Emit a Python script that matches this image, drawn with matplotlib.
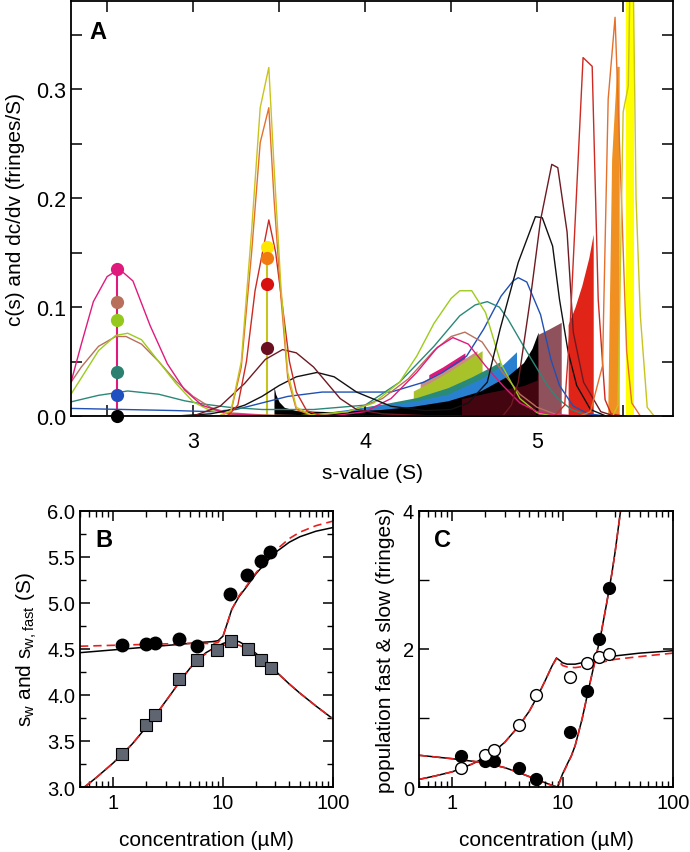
import matplotlib
matplotlib.use('Agg')
import matplotlib.pyplot as plt
from matplotlib.ticker import MultipleLocator, LogLocator, NullFormatter, FixedLocator

plt.rcParams['font.family'] = ['Liberation Sans', 'DejaVu Sans']
plt.rcParams['mathtext.default'] = 'regular'

# ---------------- panel A data: c(s) curves (s-value, fringes/S) ----------------
s_magenta = [2.29, 2.35, 2.42, 2.50, 2.57, 2.65, 2.75, 2.85, 2.95, 3.05, 3.2, 3.5, 3.8, 4.0, 4.15, 4.3, 4.42, 4.51, 4.6, 4.7, 4.8, 4.9, 5.0, 5.1, 5.3]
c_magenta = [0.031, 0.066, 0.105, 0.128, 0.135, 0.124, 0.083, 0.048, 0.024, 0.010, 0.002, 0, 0, 0.004, 0.016, 0.040, 0.063, 0.072, 0.066, 0.046, 0.028, 0.012, 0.004, 0.001, 0]

s_brown = [2.29, 2.35, 2.45, 2.55, 2.61, 2.70, 2.80, 2.90, 3.0, 3.1, 3.2, 3.4, 3.7, 3.9, 4.1, 4.25, 4.4, 4.5, 4.58, 4.68, 4.8, 4.9, 5.0, 5.1, 5.2]
c_brown = [0.031, 0.045, 0.064, 0.073, 0.073, 0.066, 0.050, 0.032, 0.018, 0.008, 0.003, 0.001, 0, 0.004, 0.016, 0.034, 0.060, 0.073, 0.077, 0.068, 0.040, 0.020, 0.008, 0.002, 0]

s_green = [2.29, 2.35, 2.45, 2.55, 2.62, 2.70, 2.80, 2.90, 3.0, 3.1, 3.25, 3.6, 3.9, 4.05, 4.2, 4.3, 4.4, 4.5, 4.55, 4.62, 4.7, 4.79, 4.9, 5.0, 5.1]
c_green = [0.020, 0.035, 0.060, 0.074, 0.076, 0.070, 0.050, 0.030, 0.013, 0.005, 0.001, 0, 0.004, 0.012, 0.031, 0.055, 0.085, 0.108, 0.115, 0.115, 0.095, 0.048, 0.016, 0.003, 0]

s_teal = [2.29, 2.45, 2.62, 2.8, 2.95, 3.06, 3.21, 3.4, 3.7, 4.0, 4.2, 4.4, 4.55, 4.64, 4.71, 4.78, 4.83, 4.94, 5.06, 5.12, 5.2, 5.3]
c_teal = [0.013, 0.019, 0.023, 0.020, 0.014, 0.011, 0.008, 0.006, 0.006, 0.010, 0.031, 0.064, 0.092, 0.102, 0.105, 0.100, 0.089, 0.059, 0.028, 0.016, 0.006, 0]

s_blue = [2.29, 2.6, 2.9, 3.1, 3.25, 3.4, 3.55, 3.75, 4.15, 4.34, 4.45, 4.59, 4.69, 4.79, 4.86, 4.89, 4.94, 5.02, 5.08, 5.13, 5.21, 5.3, 5.4]
c_blue = [0.007, 0.006, 0.005, 0.004, 0.006, 0.012, 0.018, 0.022, 0.022, 0.031, 0.040, 0.055, 0.080, 0.110, 0.124, 0.127, 0.123, 0.093, 0.052, 0.028, 0.009, 0.002, 0]

s_black = [2.29, 2.9, 3.1, 3.2, 3.3, 3.4, 3.5, 3.6, 3.72, 3.82, 3.95, 4.15, 4.35, 4.5, 4.6, 4.71, 4.785, 4.89, 4.99, 5.03, 5.09, 5.13, 5.18, 5.23, 5.31, 5.4]
c_black = [0, 0, 0.002, 0.005, 0.010, 0.018, 0.028, 0.036, 0.040, 0.036, 0.022, 0.009, 0.005, 0.006, 0.012, 0.031, 0.080, 0.141, 0.183, 0.182, 0.156, 0.107, 0.059, 0.028, 0.006, 0]

s_maroon = [2.29, 3.0, 3.157, 3.3, 3.42, 3.52, 3.6, 3.7, 3.855, 3.95, 4.1, 4.4, 4.8, 4.85, 4.89, 4.96, 5.02, 5.085, 5.12, 5.174, 5.21, 5.27, 5.37, 5.45]
c_maroon = [0, 0, 0.009, 0.030, 0.052, 0.061, 0.058, 0.045, 0.016, 0.006, 0.002, 0, 0, 0.010, 0.031, 0.107, 0.180, 0.231, 0.228, 0.169, 0.077, 0.031, 0.004, 0]

s_red = [2.29, 3.2, 3.26, 3.31, 3.36, 3.44, 3.48, 3.52, 3.56, 3.6, 3.66, 3.75, 5.1, 5.16, 5.19, 5.267, 5.32, 5.355, 5.395, 5.43, 5.5]
c_red = [0, 0, 0.010, 0.050, 0.115, 0.180, 0.150, 0.100, 0.050, 0.022, 0.005, 0, 0, 0.010, 0.077, 0.329, 0.321, 0.107, 0.015, 0.002, 0]

s_orange = [2.29, 3.15, 3.22, 3.28, 3.34, 3.39, 3.44, 3.47, 3.51, 3.55, 3.6, 3.7, 5.25, 5.31, 5.38, 5.413, 5.453, 5.49, 5.52, 5.55, 5.6]
c_orange = [0, 0, 0.004, 0.045, 0.150, 0.251, 0.283, 0.200, 0.110, 0.035, 0.006, 0, 0, 0.004, 0.046, 0.291, 0.366, 0.200, 0.060, 0.012, 0]

s_yellow = [2.29, 3.15, 3.22, 3.28, 3.34, 3.39, 3.44, 3.47, 3.51, 3.55, 3.6, 3.7, 5.44, 5.47, 5.50, 5.53, 5.545, 5.555, 5.575, 5.60, 5.64, 5.68, 5.79]
c_yellow = [0, 0, 0.005, 0.050, 0.170, 0.283, 0.320, 0.230, 0.120, 0.040, 0.008, 0, 0, 0.010, 0.279, 0.303, 0.45, 0.45, 0.200, 0.092, 0.008, 0, 0]

# ---------------- panel A data: dc/dv fills ----------------
fs_magenta = [4.37, 4.45, 4.52, 4.58]
fc_magenta = [0.038, 0.045, 0.052, 0.058]
fs_rosy = [4.32, 4.4, 4.5, 4.58, 4.65]
fc_rosy = [0.031, 0.037, 0.045, 0.053, 0.060]
fs_green = [4.28, 4.38, 4.48, 4.58, 4.68]
fc_green = [0.023, 0.031, 0.040, 0.050, 0.060]
fs_teal = [3.9, 4.1, 4.3, 4.48, 4.62, 4.73, 4.785]
fc_teal = [0.006, 0.011, 0.017, 0.026, 0.036, 0.045, 0.050]
fs_blue = [3.8, 4.09, 4.3, 4.48, 4.67, 4.8, 4.88]
fc_blue = [0.004, 0.010, 0.014, 0.020, 0.034, 0.047, 0.059]
fs_black = [3.47, 3.48, 3.5, 3.53, 3.6, 3.8, 4.09, 4.28, 4.48, 4.67, 4.83, 4.92, 4.97, 5.006]
fc_black = [0.027, 0.020, 0.013, 0.008, 0.005, 0.004, 0.006, 0.009, 0.014, 0.023, 0.037, 0.049, 0.062, 0.077]
fs_maroon = [4.56, 4.73, 4.92, 5.0, 5.006, 5.07, 5.14]
fc_maroon = [0.016, 0.022, 0.028, 0.033, 0.075, 0.080, 0.086]
fs_red = [5.18, 5.22, 5.26, 5.3, 5.326]
fc_red = [0.084, 0.100, 0.120, 0.145, 0.167]
fs_orange = [5.41, 5.433, 5.463, 5.477]
fc_orange = [0.0, 0.236, 0.321, 0.321]
fs_yellow = [5.518, 5.562]
fc_yellow = [0.5, 0.5]

# weight-average slow peak markers
dot_s1 = 2.56
dot_c1 = [0.135, 0.105, 0.088, 0.040, 0.019, 0.0]
dot_col1 = ['#e01a7c', '#b8705c', '#94c81c', '#2b8070', '#1f50c0', 'black']
dot_s2 = 3.43
dot_c2 = [0.155, 0.145, 0.121, 0.062]
dot_col2 = ['#ffe800', '#f07a10', '#d81010', '#6a1020']

# ---------------- panel B data ----------------
conc_sw = [1.2, 2.0, 2.4, 4.0, 5.8, 11.6, 16.5, 22, 26.7]
sw_fast = [4.54, 4.55, 4.57, 4.61, 4.53, 5.10, 5.30, 5.46, 5.55]
conc_sq = [1.2, 2.0, 2.4, 4.0, 5.8, 8.8, 11.9, 16.7, 22, 27.5]
sw_all = [3.36, 3.67, 3.78, 4.17, 4.38, 4.49, 4.59, 4.50, 4.38, 4.29]

fitB_x1 = [0.5, 1, 2, 4, 6, 8, 9, 10, 11, 12, 14, 16, 20, 25, 30, 40, 50, 70, 100]
fitB_black1 = [4.46, 4.49, 4.52, 4.55, 4.57, 4.58, 4.59, 4.64, 4.79, 4.93, 5.07, 5.16, 5.32, 5.45, 5.55, 5.66, 5.72, 5.78, 5.82]
fitB_red1 = [4.53, 4.54, 4.55, 4.56, 4.56, 4.56, 4.57, 4.64, 4.79, 4.93, 5.08, 5.17, 5.33, 5.47, 5.57, 5.70, 5.77, 5.84, 5.89]
fitB_x2 = [0.55, 0.7, 1, 1.2, 1.5, 2, 2.4, 3, 3.5, 4, 4.5, 5, 6, 7, 8, 10, 12, 14, 17, 20, 25, 30, 40, 50, 70, 100]
fitB_black2 = [3.0, 3.1, 3.26, 3.35, 3.47, 3.65, 3.77, 3.93, 4.04, 4.14, 4.22, 4.29, 4.39, 4.46, 4.50, 4.56, 4.59, 4.58, 4.52, 4.45, 4.35, 4.26, 4.12, 4.02, 3.88, 3.74]
fitB_red2 = [3.0, 3.1, 3.26, 3.35, 3.47, 3.65, 3.77, 3.93, 4.04, 4.14, 4.22, 4.29, 4.39, 4.45, 4.49, 4.54, 4.55, 4.54, 4.50, 4.44, 4.35, 4.26, 4.12, 4.02, 3.88, 3.74]

# ---------------- panel C data ----------------
conc_pop = [1.2, 2.0, 2.4, 4.0, 5.8, 11.6, 16.7, 21.5, 26.5]
pop_fast = [0.45, 0.38, 0.38, 0.28, 0.11, 0.80, 1.39, 2.14, 2.89]
pop_slow = [0.28, 0.46, 0.53, 0.90, 1.34, 1.59, 1.80, 1.88, 1.93]

fitC_x1 = [0.5, 0.7, 1, 1.5, 2, 2.5, 3, 4, 5, 6, 7, 8, 8.8, 9.5, 10, 11, 13, 16, 20, 30, 50, 100]
fitC_black1 = [0.11, 0.16, 0.22, 0.33, 0.43, 0.54, 0.65, 0.88, 1.10, 1.33, 1.55, 1.75, 1.87, 1.83, 1.80, 1.78, 1.78, 1.81, 1.85, 1.90, 1.94, 1.975]
fitC_red1 = [0.11, 0.16, 0.22, 0.33, 0.43, 0.54, 0.65, 0.88, 1.10, 1.33, 1.55, 1.75, 1.86, 1.80, 1.76, 1.74, 1.73, 1.75, 1.79, 1.85, 1.89, 1.94]
fitC_x2 = [0.5, 1, 2, 3, 4, 5, 6, 7, 8, 9, 10, 11, 12, 13, 15, 17, 20, 22, 25, 28, 30, 33.5, 36]
fitC_black2 = [0.46, 0.41, 0.35, 0.28, 0.21, 0.15, 0.10, 0.06, 0.025, 0.0, 0.19, 0.33, 0.45, 0.60, 0.98, 1.38, 1.88, 2.17, 2.65, 3.10, 3.42, 4.0, 4.4]
fitC_red2 = [0.46, 0.41, 0.35, 0.28, 0.21, 0.15, 0.10, 0.06, 0.02, -0.01, 0.18, 0.32, 0.45, 0.60, 0.98, 1.38, 1.88, 2.17, 2.65, 3.10, 3.42, 4.0, 4.4]

fig = plt.figure(figsize=(6.9, 8.53), dpi=100)

# ================= panel A =================
axA = fig.add_axes([0.1029, 0.5111, 0.8725, 0.4866])

fills = [(fs_magenta, fc_magenta, '#e0187a', 1.0),
         (fs_rosy, fc_rosy, '#c8907c', 1.0),
         (fs_green, fc_green, '#a8c22a', 1.0),
         (fs_teal, fc_teal, '#2a8a7a', 1.0),
         (fs_blue, fc_blue, '#2a80d0', 1.0),
         (fs_black, fc_black, 'black', 1.0),
         (fs_maroon, fc_maroon, '#600818', 0.7),
         (fs_red, fc_red, '#e02418', 1.0),
         (fs_orange, fc_orange, '#f09022', 1.0),
         (fs_yellow, fc_yellow, '#ffff00', 1.0)]
for fx, fy, col, a in fills:
    axA.fill_between(fx, 0, fy, color=col, alpha=a, lw=0)

axA.plot([dot_s1, dot_s1], [0, dot_c1[0]], color='#e01a7c', lw=1.5)
axA.plot([dot_s2, dot_s2], [0, dot_c2[0]], color='#c8c41e', lw=1.5)

curves = [(s_blue, c_blue, '#2050b4'),
          (s_teal, c_teal, '#2b8878'),
          (s_brown, c_brown, '#b8705c'),
          (s_green, c_green, '#9ccc1c'),
          (s_magenta, c_magenta, '#e01a7c'),
          (s_black, c_black, '#111111'),
          (s_maroon, c_maroon, '#6e1a22'),
          (s_red, c_red, '#cc2a22'),
          (s_orange, c_orange, '#e4702c'),
          (s_yellow, c_yellow, '#c8c41e')]
for sx, cy, col in curves:
    axA.plot(sx, cy, color=col, lw=1.0)

for c, col in zip(dot_c1, dot_col1):
    axA.plot(dot_s1, c, 'o', color=col, ms=9.5, mew=0, clip_on=False, zorder=5)
for c, col in zip(dot_c2, dot_col2):
    axA.plot(dot_s2, c, 'o', color=col, ms=9.5, mew=0, clip_on=False, zorder=5)

axA.set_xlim(2.29, 5.79)
axA.set_ylim(0, 0.381)
axA.xaxis.set_major_locator(FixedLocator([3, 4, 5]))
axA.xaxis.set_minor_locator(FixedLocator([2.5, 3.5, 4.5, 5.5]))
axA.yaxis.set_minor_locator(MultipleLocator(0.05))
axA.set_yticks([0, 0.1, 0.2, 0.3])
axA.set_yticklabels(['0.0', '0.1', '0.2', '0.3'])
axA.tick_params(which='both', direction='in', top=True, right=True, length=8, width=1.1, labelsize=15.5)
axA.tick_params(axis='x', pad=11)
axA.set_xlabel('s-value (S)', fontsize=15, labelpad=8)
axA.set_ylabel('c(s) and dc/dv (fringes/S)', fontsize=15, labelpad=8)
axA.text(0.03, 0.955, 'A', transform=axA.transAxes, fontsize=17, fontweight='bold', va='top')
for sp in axA.spines.values():
    sp.set_linewidth(1.3)
    sp.set_zorder(10)

# ================= panel B =================
axB = fig.add_axes([0.1159, 0.0762, 0.3667, 0.3236])
axB.plot(fitB_x1, fitB_black1, color='black', lw=1.1)
axB.plot(fitB_x1, fitB_red1, color='#e82020', lw=1.2, dashes=(5, 3))
axB.plot(fitB_x2, fitB_black2, color='black', lw=1.1)
axB.plot(fitB_x2, fitB_red2, color='#e82020', lw=1.2, dashes=(5, 3))
axB.plot(conc_sq, sw_all, 's', color='#5f6672', mec='black', mew=0.8, ms=8.5)
axB.plot(conc_sw, sw_fast, 'o', color='black', ms=9)
axB.set_xscale('log')
axB.set_xlim(0.5, 100)
axB.set_ylim(3.0, 6.0)
axB.set_xticks([1, 10, 100])
axB.set_xticklabels(['1', '10', '100'])
axB.xaxis.set_minor_locator(LogLocator(base=10, subs=range(2, 10)))
axB.xaxis.set_minor_formatter(NullFormatter())
axB.yaxis.set_minor_locator(MultipleLocator(0.25))
axB.set_yticks([3.0, 3.5, 4.0, 4.5, 5.0, 5.5, 6.0])
axB.set_yticklabels(['3.0', '3.5', '4.0', '4.5', '5.0', '5.5', '6.0'])
axB.tick_params(which='major', direction='in', top=True, right=True, length=7, width=1.1, labelsize=14.5)
axB.tick_params(which='minor', direction='in', top=True, right=True, length=4, width=1.0)
axB.tick_params(axis='x', pad=4)
axB.set_xlabel('concentration (µM)', fontsize=15, labelpad=13)
axB.set_ylabel('s$_{w}$ and s$_{w,fast}$ (S)', fontsize=15, labelpad=6)
axB.text(0.06, 0.94, 'B', transform=axB.transAxes, fontsize=17, fontweight='bold', va='top')
for sp in axB.spines.values():
    sp.set_linewidth(1.3)

# ================= panel C =================
axC = fig.add_axes([0.6072, 0.0762, 0.3681, 0.3236])
axC.plot(fitC_x1, fitC_black1, color='black', lw=1.1)
axC.plot(fitC_x1, fitC_red1, color='#e82020', lw=1.2, dashes=(5, 3))
axC.plot(fitC_x2, fitC_black2, color='black', lw=1.1)
axC.plot(fitC_x2, fitC_red2, color='#e82020', lw=1.2, dashes=(5, 3))
axC.plot(conc_pop, pop_fast, 'o', color='black', ms=8.5)
axC.plot(conc_pop, pop_slow, 'o', mfc='white', mec='black', mew=1.0, ms=8.5)
axC.set_xscale('log')
axC.set_xlim(0.5, 100)
axC.set_ylim(0, 4)
axC.set_xticks([1, 10, 100])
axC.set_xticklabels(['1', '10', '100'])
axC.xaxis.set_minor_locator(LogLocator(base=10, subs=range(2, 10)))
axC.xaxis.set_minor_formatter(NullFormatter())
axC.set_yticks([0, 2, 4])
axC.set_yticklabels(['0', '2', '4'])
axC.yaxis.set_minor_locator(MultipleLocator(1))
axC.tick_params(which='major', direction='in', top=True, right=True, length=7, width=1.1, labelsize=14.5)
axC.tick_params(which='minor', direction='in', top=True, right=True, length=4, width=1.0)
axC.tick_params(axis='y', which='minor', length=7)
axC.tick_params(axis='x', pad=4)
axC.set_xlabel('concentration (µM)', fontsize=15, labelpad=13)
axC.set_ylabel('population fast & slow (fringes)', fontsize=15, labelpad=6)
axC.text(0.06, 0.94, 'C', transform=axC.transAxes, fontsize=17, fontweight='bold', va='top')
for sp in axC.spines.values():
    sp.set_linewidth(1.3)

fig.savefig('out.png', dpi=100)
